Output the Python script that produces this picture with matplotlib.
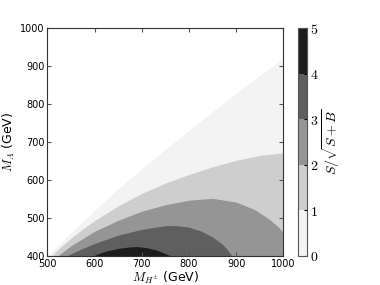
import numpy as np
import matplotlib
matplotlib.use("Agg")
import matplotlib.pyplot as plt
from matplotlib.colors import ListedColormap, BoundaryNorm
from matplotlib.cm import ScalarMappable

plt.rcParams['mathtext.fontset'] = 'cm'

# edge of the allowed region (above it: no data)
edge_x = [500, 550, 600, 650, 700, 750, 800, 850, 900, 950, 1000]
edge_y = [400, 460, 520, 577, 630, 681, 731, 780, 829, 876, 920]

# contour lines of S/sqrt(S+B)
c1_x = [509, 525, 550, 575, 600, 650, 700, 750, 800, 850, 900, 950, 1000]
c1_y = [400, 420, 447, 471, 493, 532, 565, 592, 615, 635, 652, 665, 672]

c2_x = [522, 550, 600, 650, 700, 750, 800, 850, 900, 940, 970, 990, 1000]
c2_y = [400, 427, 465, 494, 518, 535, 547, 552, 542, 522, 497, 476, 462]

c3_x = [540, 575, 600, 650, 700, 750, 775, 800, 825, 850, 870, 882, 888, 891]
c3_y = [400, 420, 433, 455, 470, 480, 480, 476, 466, 450, 432, 416, 406, 400]

c4_x = [597, 610, 625, 650, 675, 690, 710, 730, 745, 758, 765]
c4_y = [400, 407, 413, 420, 424, 425, 422, 416, 409, 402, 400]

levels = [0, 1, 2, 3, 4, 5]

greys = plt.get_cmap('Greys')
colors = [greys((l + 0.5) / 5.0) for l in levels[:-1]]
cmap = ListedColormap(colors)
norm = BoundaryNorm(levels, cmap.N)

fig = plt.figure(figsize=(3.8, 2.85), dpi=100)
ax = fig.add_axes([0.1245, 0.1018, 0.621, 0.7989])
cax = fig.add_axes([0.783, 0.1018, 0.0253, 0.7989])

curves = [(edge_x, edge_y), (c1_x, c1_y), (c2_x, c2_y), (c3_x, c3_y), (c4_x, c4_y)]
for i, (cx, cy) in enumerate(curves):
    ax.fill_between(cx, 400, cy, color=colors[i], linewidth=0)

ax.set_xlim(500, 1000)
ax.set_ylim(400, 1000)
ax.set_xticks([500, 600, 700, 800, 900, 1000])
ax.set_yticks([400, 500, 600, 700, 800, 900, 1000])
ax.tick_params(direction='in', top=True, right=True, labelsize=7, length=3,
               color='#555555', pad=2)
for s in ax.spines.values():
    s.set_color('#333333')
ax.set_xlabel(r'$M_{H^{\pm}}$ (GeV)', fontsize=9, labelpad=1)
ax.set_ylabel(r'$M_A$ (GeV)', fontsize=9, labelpad=2)

sm = ScalarMappable(norm=norm, cmap=cmap)
cb = fig.colorbar(sm, cax=cax, ticks=levels)
cb.ax.set_yticklabels(['$%d$' % l for l in levels])
cb.ax.tick_params(labelsize=10, length=2, direction='in', pad=2)
cb.outline.set_edgecolor('#555555')
cb.set_label(r'$S/\sqrt{S+B}$', fontsize=10, labelpad=1)

fig.savefig('out.png', dpi=100)
